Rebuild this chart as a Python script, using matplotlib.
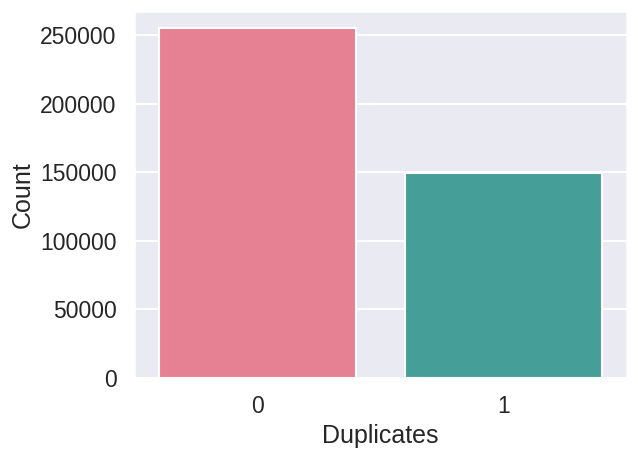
import matplotlib
matplotlib.use("Agg")
import matplotlib.pyplot as plt
import seaborn as sns

categories = ["0", "1"]
counts = [255027, 149263]

sns.set_theme(context="talk", style="darkgrid")
plt.rcParams['font.family'] = ['Arial', 'Liberation Sans', 'DejaVu Sans']

fig = plt.figure(figsize=(6.38, 4.55), dpi=100)
ax = fig.add_axes([134/638, 77/455, (627-134)/638, (378-11)/455])
sns.barplot(x=categories, y=counts, hue=categories, palette="husl", legend=False, ax=ax, saturation=0.75)
ax.set_xlabel("Duplicates")
ax.set_ylabel("Count")
fig.savefig("out.png", dpi=100)
